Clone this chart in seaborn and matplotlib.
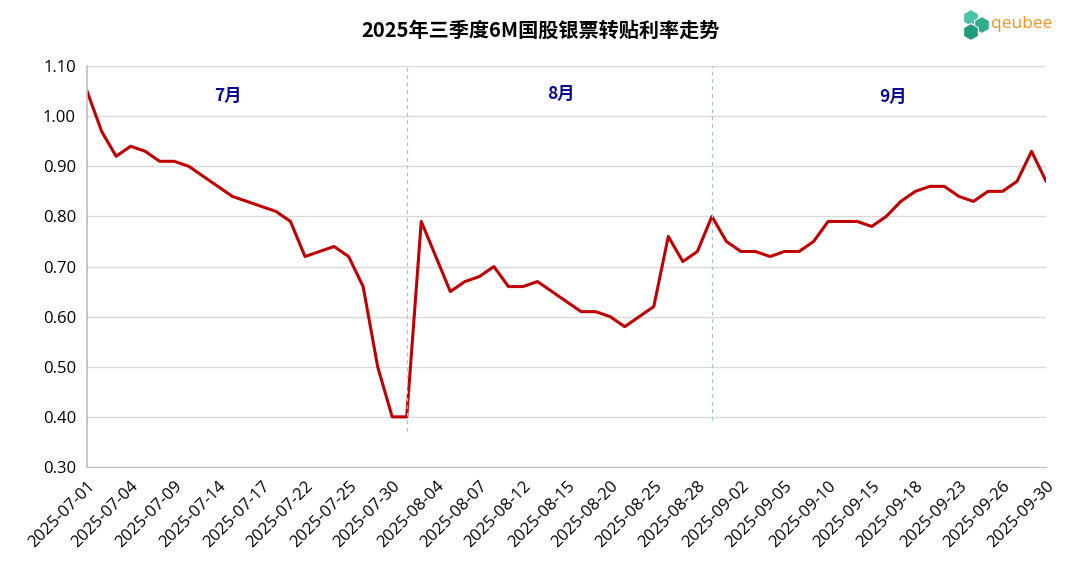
import matplotlib
matplotlib.use("Agg")
import matplotlib.pyplot as plt
import matplotlib.patches as mpatches
import pandas as pd
import seaborn as sns

# trading days (Sep 28 was a working Sunday)
jul_days = [1, 2, 3, 4, 7, 8, 9, 10, 11, 14, 15, 16, 17, 18, 21, 22, 23, 24, 25, 28, 29, 30, 31]
aug_days = [1, 4, 5, 6, 7, 8, 11, 12, 13, 14, 15, 18, 19, 20, 21, 22, 25, 26, 27, 28, 29]
sep_days = [1, 2, 3, 4, 5, 8, 9, 10, 11, 12, 15, 16, 17, 18, 19, 22, 23, 24, 25, 26, 28, 29, 30]

jul_rate = [1.05, 0.97, 0.92, 0.94, 0.93, 0.91, 0.91, 0.90, 0.88, 0.86, 0.84, 0.83,
            0.82, 0.81, 0.79, 0.72, 0.73, 0.74, 0.72, 0.66, 0.50, 0.40, 0.40]
aug_rate = [0.79, 0.72, 0.65, 0.67, 0.68, 0.70, 0.66, 0.66, 0.67, 0.65, 0.63, 0.61,
            0.61, 0.60, 0.58, 0.60, 0.62, 0.76, 0.71, 0.73, 0.80]
sep_rate = [0.75, 0.73, 0.73, 0.72, 0.73, 0.73, 0.75, 0.79, 0.79, 0.79, 0.78, 0.80,
            0.83, 0.85, 0.86, 0.86, 0.84, 0.83, 0.85, 0.85, 0.87, 0.93, 0.87]

month_labels = ["7月", "8月", "9月"]

dates = ([f"2025-07-{d:02d}" for d in jul_days] +
         [f"2025-08-{d:02d}" for d in aug_days] +
         [f"2025-09-{d:02d}" for d in sep_days])
rates = jul_rate + aug_rate + sep_rate
df = pd.DataFrame({"date": dates, "rate": rates})
df["pos"] = range(len(df))

sns.set_style("white")
plt.rcParams["font.family"] = ["Open Sans", "Noto Sans CJK SC", "DejaVu Sans"]

fig = plt.figure(figsize=(10.8, 5.65), dpi=100)
ax = fig.add_axes([0.0806, 0.1735, 0.888, 0.7095])

sns.lineplot(data=df, x="pos", y="rate", ax=ax, color="#C00000", linewidth=2.2)

ax.set_xlim(0, len(df) - 1)
ax.set_ylim(0.30, 1.10)
ax.set_yticks([0.3 + 0.1 * i for i in range(9)])
ax.set_yticklabels([f"{0.3 + 0.1 * i:.2f}" for i in range(9)], fontsize=12)
ax.yaxis.grid(True, color="#d9d9d9", linewidth=1)
ax.set_axisbelow(True)

tick_pos = list(range(0, len(df), 3))
ax.set_xticks(tick_pos)
ax.set_xticklabels([dates[i] for i in tick_pos], rotation=45, ha="right",
                   rotation_mode="anchor", fontsize=12)
ax.tick_params(axis="both", direction="out", length=5, color="#bfbfbf", width=1, pad=3,
               labelcolor="black")
ax.set_xlabel("")
ax.set_ylabel("")

for s in ["top", "right"]:
    ax.spines[s].set_visible(False)
ax.spines["left"].set_color("#bfbfbf")
ax.spines["bottom"].set_color("#bfbfbf")
ax.spines["left"].set_linewidth(1.2)

# month boundaries
month_end = [len(jul_days) - 1, len(jul_days) + len(aug_days) - 1]
ax.axvline(month_end[0], ymin=0.09, ymax=1.0, color="#9dc3e6", linestyle=(0, (3, 3)), linewidth=0.9)
ax.axvline(month_end[1], ymin=0.117, ymax=1.0, color="#9dc3e6", linestyle=(0, (3, 3)), linewidth=0.9)

month_x = [9.7, 32.6, 55.5]
month_y = [1.04, 1.045, 1.038]
for lbl, mx, my in zip(month_labels, month_x, month_y):
    ax.text(mx, my, lbl, color="#0a0a96", fontsize=12.5, fontweight="bold",
            ha="center", va="center", family=["Noto Sans CJK SC", "DejaVu Sans"])

fig.text(0.5, 0.947, "2025年三季度6M国股银票转贴利率走势", ha="center", va="center",
         fontsize=14.5, fontweight="bold", color="black",
         family=["Noto Sans CJK SC", "DejaVu Sans"])

# logo
for (cx, cy, c) in [(971, 18, "#4cc3a6"), (982, 25, "#2fae8e"), (971, 32, "#1e9a7c")]:
    fig.patches.append(mpatches.RegularPolygon((cx / 100, (565 - cy) / 100), 6, radius=0.085,
                                               orientation=0.0, facecolor=c,
                                               edgecolor="white", linewidth=0.8,
                                               transform=fig.dpi_scale_trans))
fig.text(0.918, 1 - 24 / 565, "qeubee", color="#f7941d", fontsize=12.5, ha="left", va="center",
         family=["Open Sans", "DejaVu Sans"])

fig.savefig("out.png", dpi=100, facecolor="white")
